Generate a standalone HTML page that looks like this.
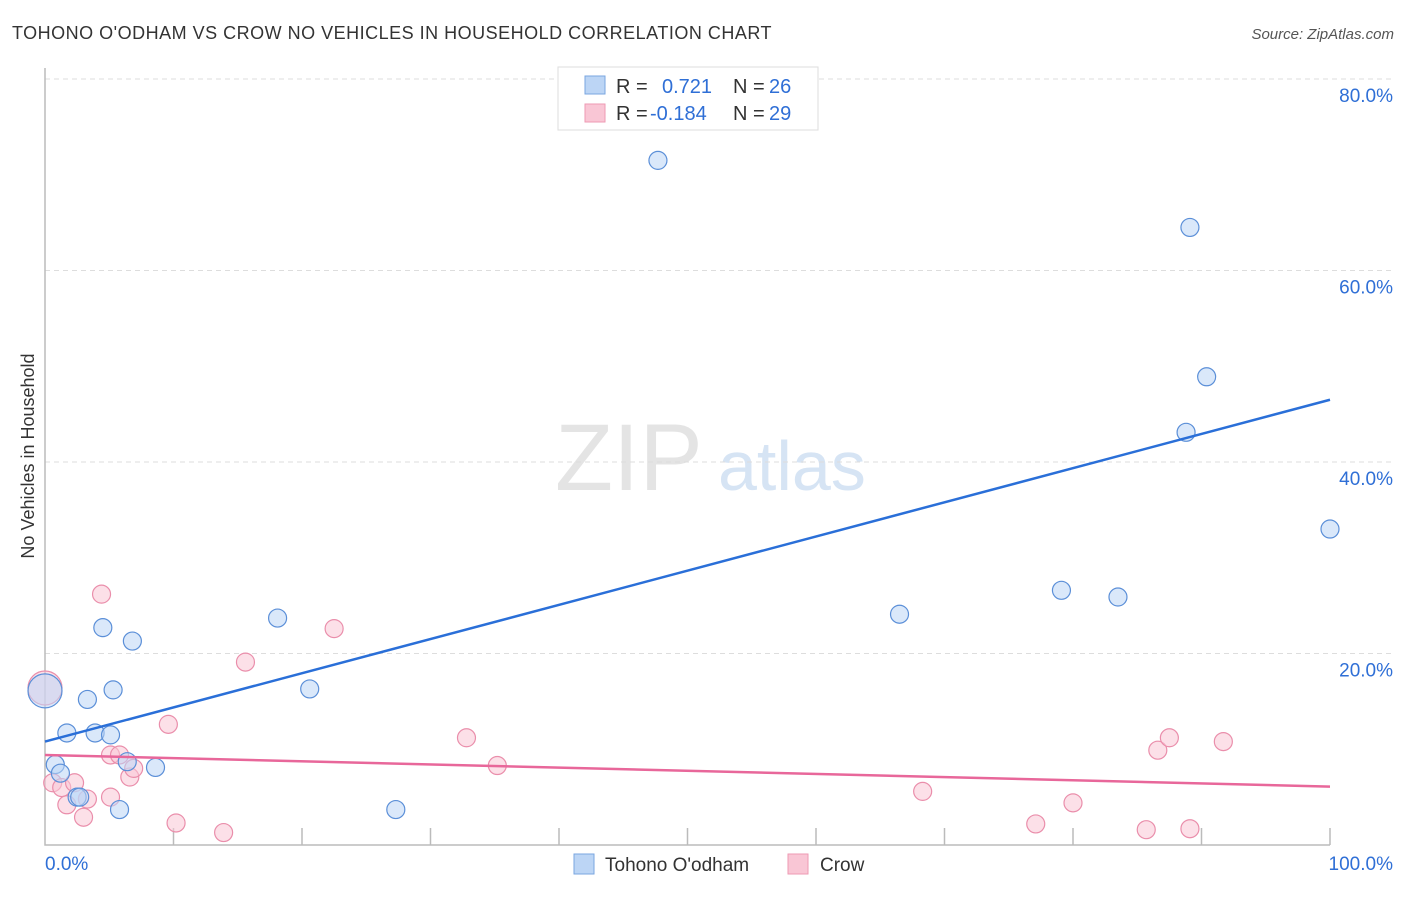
<!DOCTYPE html>
<html><head><meta charset="utf-8"><style>
body{margin:0;background:#fff;font-family:"Liberation Sans",sans-serif}
svg text{font-family:"Liberation Sans",sans-serif}
</style></head><body>
<svg id="c" width="1406" height="892" xmlns="http://www.w3.org/2000/svg">
<text x="12" y="39" font-size="18" fill="#333" letter-spacing="0.5">TOHONO O'ODHAM VS CROW NO VEHICLES IN HOUSEHOLD CORRELATION CHART</text>
<text x="1394" y="39" font-size="15" fill="#555" font-style="italic" text-anchor="end">Source: ZipAtlas.com</text>
<text x="34" y="456" font-size="18" fill="#333" text-anchor="middle" transform="rotate(-90 34 456)">No Vehicles in Household</text>
<text x="555" y="490" font-size="95" fill="#e4e4e4" font-family="Liberation Serif">ZIP</text>
<text x="718" y="490" font-size="70" fill="#d6e4f4">atlas</text>
<g id="grid"></g><g id="axes"></g><g id="pts"></g><g id="lines"></g>
<g>
<rect x="558" y="67" width="260" height="63" fill="#fff" stroke="#ddd"/>
<rect x="585" y="76" width="20" height="18" fill="#bcd5f5" stroke="#7aa6e0"/>
<text x="616" y="93" font-size="20" fill="#333">R =</text><text x="662" y="93" font-size="20" fill="#2f6fd6">0.721</text>
<text x="733" y="93" font-size="20" fill="#333">N =</text><text x="769" y="93" font-size="20" fill="#2f6fd6">26</text>
<rect x="585" y="104" width="20" height="18" fill="#f9c6d5" stroke="#ee9ab3"/>
<text x="616" y="120" font-size="20" fill="#333">R =</text><text x="650" y="120" font-size="20" fill="#2f6fd6">-0.184</text>
<text x="733" y="120" font-size="20" fill="#333">N =</text><text x="769" y="120" font-size="20" fill="#2f6fd6">29</text>
</g>
<g>
<rect x="574" y="854" width="20" height="20" fill="#bcd5f5" stroke="#7aa6e0"/>
<text x="605" y="871" font-size="19" fill="#333">Tohono O'odham</text>
<rect x="788" y="854" width="20" height="20" fill="#f9c6d5" stroke="#ee9ab3"/>
<text x="820" y="871" font-size="19" fill="#333">Crow</text>
</g>
</svg>
<script>
const blueX=[0,0.8,1.2,1.7,2.5,2.7,3.3,3.9,4.5,5.1,5.3,6.4,6.8,8.6,5.8,18.1,20.6,27.3,47.7,66.5,79.1,83.5,88.8,89.1,90.4,100];
const blueY=[16.1,8.4,7.5,11.7,5.0,5.0,15.2,11.7,22.7,11.5,16.2,8.7,21.3,8.1,3.7,23.7,16.3,3.7,71.5,24.1,26.6,25.9,43.1,64.5,48.9,33.0];
const pinkX=[0,0.6,1.3,1.7,2.3,3.0,3.3,4.4,5.1,5.1,5.8,6.6,6.9,9.6,10.2,13.9,15.6,22.5,32.8,35.2,68.3,77.1,80.0,85.7,86.6,87.5,89.1,91.7];
const pinkY=[16.4,6.5,6.0,4.2,6.5,2.9,4.8,26.2,5.0,9.4,9.4,7.1,8.0,12.6,2.3,1.3,19.1,22.6,11.2,8.3,5.6,2.2,4.4,1.6,9.9,11.2,1.7,10.8];
const blueTrend=[10.8,46.5];
const pinkTrend=[9.4,6.1];
const yTicks=[20,40,60,80];
const yTickLabels=["20.0%","40.0%","60.0%","80.0%"];
const xTickLabels=["0.0%","100.0%"];
const NS="http://www.w3.org/2000/svg";
const X=v=>45+v*12.85, Y=v=>845-v*9.575;
function mk(p,t,a){const e=document.createElementNS(NS,t);for(const k in a)e.setAttribute(k,a[k]);document.getElementById(p).appendChild(e);return e;}
yTicks.forEach((t,i)=>{
 const g=mk('grid','line',{x1:45,x2:1394,y1:Y(t),y2:Y(t),stroke:'#ddd','stroke-dasharray':'5,4'});
 
 
 const l=mk('grid','text',{x:1393,y:Y(t)+23,'font-size':19,fill:'#2f6fd6','text-anchor':'end'});
 l.textContent=yTickLabels[i];
 
 
});
const ax=mk('axes','path',{d:'M45,68V845H1330',stroke:'#bbb',fill:'none','stroke-width':1.5});


for(let i=1;i<=10;i++){
 const t=mk('axes','line',{x1:X(i*10),x2:X(i*10),y1:828,y2:845,stroke:'#bbb','stroke-width':1.5});
 
 
}
[[0,'start',45],[100,'end',1393]].forEach((d,i)=>{
 const l=mk('axes','text',{x:d[2],y:870,'font-size':19,fill:'#2f6fd6','text-anchor':d[1]});
 l.textContent=xTickLabels[i];
 
 
});
function pts(xs,ys,fill,stroke,name){
 xs.forEach((x,i)=>{
  const r=i===0?17:9;
  const c=mk('pts','circle',{cx:X(x),cy:Y(ys[i]),r:r,fill:fill,'fill-opacity':0.55,stroke:stroke,'stroke-width':1.2});
  
  
 });
}
pts(pinkX,pinkY,'#f9c6d5','#ea8eab','crow-point');
pts(blueX,blueY,'#bcd5f5','#5b8fd8','tohono-point');
const bl=mk('lines','line',{x1:X(0),x2:X(100),y1:Y(blueTrend[0]),y2:Y(blueTrend[1]),stroke:'#2a6fd8','stroke-width':2.5});


const pl=mk('lines','line',{x1:X(0),x2:X(100),y1:Y(pinkTrend[0]),y2:Y(pinkTrend[1]),stroke:'#e8679a','stroke-width':2.5});


</script>
</body></html>
